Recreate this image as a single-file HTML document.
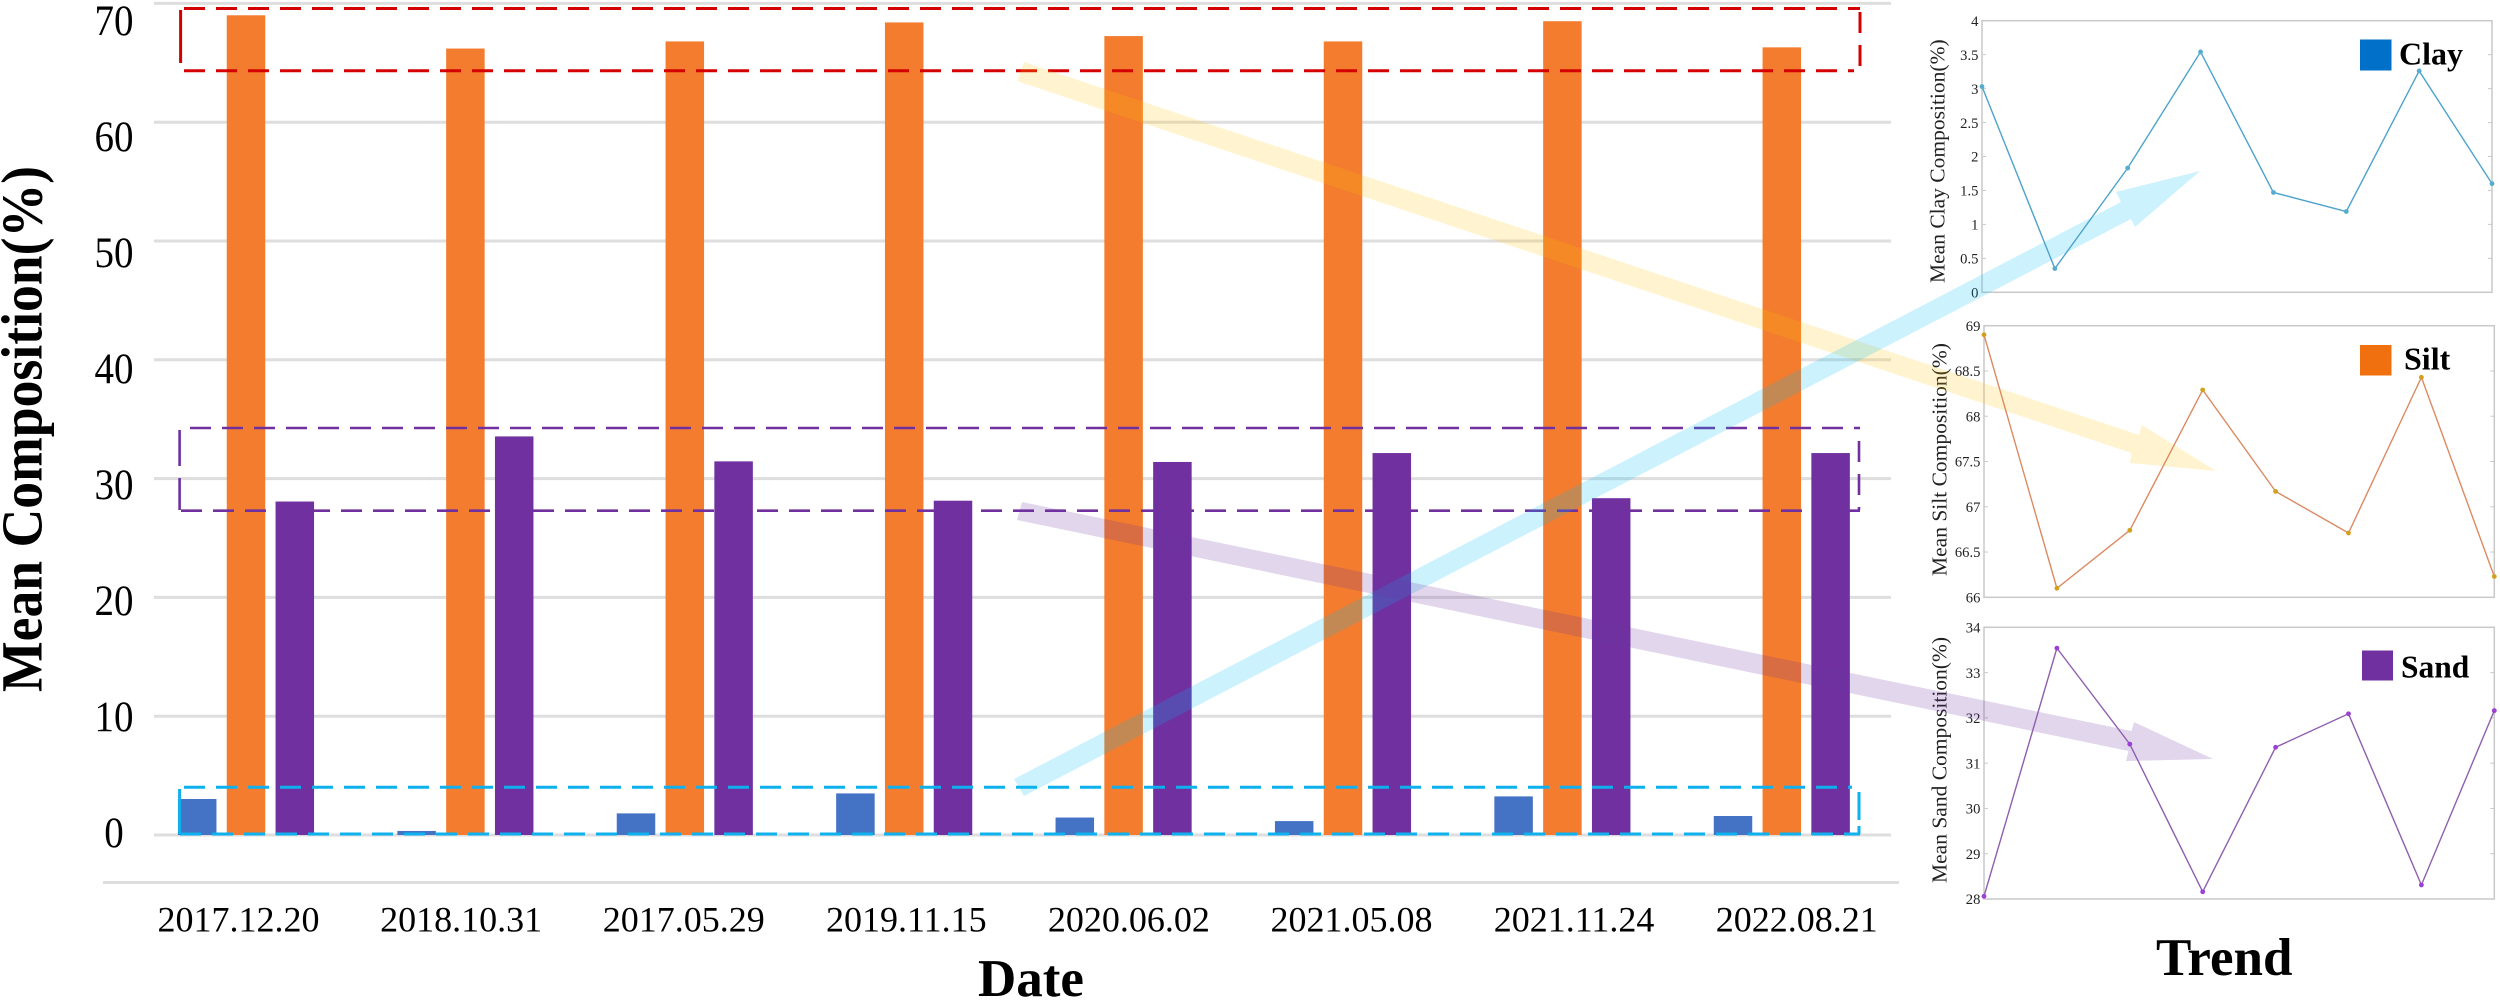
<!DOCTYPE html>
<html lang="en">
<head>
<meta charset="utf-8">
<title>Mean Composition by Date and Trend</title>
<style>
  html, body { margin: 0; padding: 0; background: #fff; }
  svg { display: block; font-family: "Liberation Serif", "Times New Roman", serif; }
</style>
</head>
<body>
<svg id="figure" xmlns="http://www.w3.org/2000/svg" width="2500" height="1000" viewBox="0 0 2500 1000">
  <rect width="2500" height="1000" fill="#fff"/>
  <g id="main-grid"></g>
  <line x1="103" x2="1899" y1="882.5" y2="882.5" stroke="#dedede" stroke-width="3"/>
  <g id="main-bars"></g>
  <g id="main-y-labels"></g>
  <g id="main-x-labels"></g>

  <text transform="translate(41.5 692) rotate(-90)" font-size="58" font-weight="bold" textLength="526" lengthAdjust="spacingAndGlyphs">Mean Composition(%)</text>
  <text x="978" y="996" font-size="53" font-weight="bold">Date</text>
  <text x="2156" y="975" font-size="53" font-weight="bold">Trend</text>

  <g fill="none" stroke="#d40000" stroke-width="3">
    <line x1="184" x2="1860" y1="8.5" y2="8.5" stroke-dasharray="21 11"/>
    <line x1="184" x2="1854" y1="70.7" y2="70.7" stroke-dasharray="21 11"/>
    <line x1="180.6" x2="180.6" y1="10" y2="63"/>
    <line x1="1860" x2="1860" y1="12" y2="66" stroke-dasharray="21 12"/>
  </g>
  <g fill="none" stroke="#7030a0" stroke-width="2.6">
    <line x1="190" x2="1860" y1="428" y2="428" stroke-dasharray="21 11"/>
    <line x1="181" x2="1860" y1="510.7" y2="510.7" stroke-dasharray="21 11"/>
    <line x1="179.6" x2="179.6" y1="430" y2="510" stroke-dasharray="36 12"/>
    <line x1="1859" x2="1859" y1="441" y2="510" stroke-dasharray="21 12"/>
  </g>
  <g fill="none" stroke="#0fb0ee" stroke-width="3">
    <line x1="184" x2="1852" y1="787.3" y2="787.3" stroke-dasharray="21 11"/>
    <line x1="180" x2="1860" y1="834" y2="834" stroke-dasharray="21 11"/>
    <line x1="179.6" x2="179.6" y1="789" y2="834"/>
    <line x1="1859" x2="1859" y1="792" y2="834" stroke-dasharray="28 6"/>
  </g>

  <g id="trend-panels"></g>

  <polygon points="1024,62 2139,435 2142,425 2216,471 2130,463 2131.5,453 1017,81" fill="#ffc400" fill-opacity="0.19"/>
  <polygon points="1014,779 2121,202 2116,192 2200,171 2135,227 2131,219 1024,796" fill="#00bef5" fill-opacity="0.2"/>
  <polygon points="1022,502 2131.5,731 2134,722 2213,759 2126,761 2128.5,751 1017,520" fill="#7030a0" fill-opacity="0.2"/>

  <g id="trend-lines"></g>

  <rect x="2360" y="39.5" width="31.5" height="31" fill="#0070c8"/>
  <text x="2399" y="64.5" font-size="32" font-weight="bold">Clay</text>
  <rect x="2360" y="345" width="31.5" height="30.5" fill="#f07010"/>
  <text x="2404" y="369.5" font-size="32" font-weight="bold">Silt</text>
  <rect x="2362" y="650.5" width="31" height="30" fill="#7030a0"/>
  <text x="2401" y="677.5" font-size="31.5" font-weight="bold">Sand</text>
</svg>

<script>
const categories = ['2017.12.20', '2018.10.31', '2017.05.29', '2019.11.15', '2020.06.02', '2021.05.08', '2021.11.24', '2022.08.21'];
const barClay = [3.03, 0.34, 1.82, 3.5, 1.47, 1.17, 3.25, 1.6];
const barSilt = [69.0, 66.2, 66.8, 68.4, 67.25, 66.8, 68.5, 66.3];
const barSand = [28.07, 33.55, 31.45, 28.14, 31.4, 32.15, 28.35, 32.15];
const mainTicks = [0, 10, 20, 30, 40, 50, 60, 70];
const trendClay = [3.03, 0.35, 1.83, 3.54, 1.47, 1.19, 3.26, 1.6];
const trendSilt = [68.9, 66.1, 66.74, 68.29, 67.17, 66.71, 68.43, 66.23];
const trendSand = [28.06, 33.54, 31.42, 28.16, 31.35, 32.09, 28.31, 32.16];
const clayTicks = [0, 0.5, 1, 1.5, 2, 2.5, 3, 3.5, 4];
const siltTicks = [66, 66.5, 67, 67.5, 68, 68.5, 69];
const sandTicks = [28, 29, 30, 31, 32, 33, 34];

const NS = 'http://www.w3.org/2000/svg';
function make(tag, attrs, parent) {
  const node = document.createElementNS(NS, tag);
  Object.keys(attrs).forEach(function (k) { node.setAttribute(k, attrs[k]); });
  parent.appendChild(node);
  return node;
}

/* main chart axis functions */
const mainY = function (v) { return 835 - v * 11.88; };
const mainLabelY = function (v) { return 832.7 - v * 11.6; };
const bandX = function (i) { return 246 + i * 219.4; };
const tickLabelX = function (i) { return 238.5 + i * 222.6; };
const BAR_W = 38.5;
const BAR_STEP = 48.8;

const gridGroup = document.getElementById('main-grid');
const yLabelGroup = document.getElementById('main-y-labels');
mainTicks.forEach(function (t) {
  const grid = make('line', { x1: 154, x2: 1891, y1: mainY(t), y2: mainY(t), stroke: '#dedede', 'stroke-width': 3 }, gridGroup);
  
  
  const label = make('text', { x: 114, y: mainLabelY(t) + 14.5, 'font-size': 43, 'text-anchor': 'middle', textLength: String(t).length * 19.5, lengthAdjust: 'spacingAndGlyphs', fill: '#000' }, yLabelGroup);
  label.textContent = t;
  
  
});

const barGroup = document.getElementById('main-bars');
const barSeries = [
  { key: 'clay', values: barClay, fill: '#4472c4', offset: -1 },
  { key: 'silt', values: barSilt, fill: '#f37c2e', offset: 0 },
  { key: 'sand', values: barSand, fill: '#7030a0', offset: 1 }
];
barSeries.forEach(function (s) {
  s.values.forEach(function (v, i) {
    const top = mainY(v);
    const bar = make('rect', { x: bandX(i) + s.offset * BAR_STEP - BAR_W / 2, y: top, width: BAR_W, height: mainY(0) - top, fill: s.fill }, barGroup);
    
    
  });
});

const xLabelGroup = document.getElementById('main-x-labels');
categories.forEach(function (c, i) {
  const label = make('text', { x: tickLabelX(i), y: 931.5, 'font-size': 36, 'text-anchor': 'middle', fill: '#000' }, xLabelGroup);
  label.textContent = c;
  
  
});

/* trend panels */
const panelGroup = document.getElementById('trend-panels');
const lineGroup = document.getElementById('trend-lines');
const panels = [
  { key: 'clay', values: trendClay, ticks: clayTicks, left: 1982, right: 2492, top: 20.7, bottom: 292.3, title: 'Mean Clay Composition(%)', titleBase: 283, lineColor: '#4ea3cc', markColor: '#55accf' },
  { key: 'silt', values: trendSilt, ticks: siltTicks, left: 1984, right: 2494.3, top: 325.7, bottom: 597.3, title: 'Mean Silt Composition(%)', titleBase: 576, lineColor: '#dc8a62', markColor: '#d3a01e' },
  { key: 'sand', values: trendSand, ticks: sandTicks, left: 1984, right: 2494.3, top: 627.3, bottom: 899, title: 'Mean Sand Composition(%)', titleBase: 883, lineColor: '#8e5fae', markColor: '#9a3fd8' }
];
panels.forEach(function (p) {
  const lo = p.ticks[0];
  const hi = p.ticks[p.ticks.length - 1];
  const yScale = function (v) { return p.bottom - (v - lo) / (hi - lo) * (p.bottom - p.top); };
  const xScale = function (i) { return p.left + i * (p.right - p.left) / (p.values.length - 1); };

  const frame = make('rect', { x: p.left, y: p.top, width: p.right - p.left, height: p.bottom - p.top, fill: 'none', stroke: '#c9c9c9', 'stroke-width': 1.5 }, panelGroup);
  
  

  p.ticks.forEach(function (t) {
    const y = yScale(t);
    const tickL = make('line', { x1: p.left, x2: p.left + 4, y1: y, y2: y, stroke: '#c9c9c9', 'stroke-width': 1 }, panelGroup);
    
    
    const tickR = make('line', { x1: p.right - 4, x2: p.right, y1: y, y2: y, stroke: '#c9c9c9', 'stroke-width': 1 }, panelGroup);
    
    
    const label = make('text', { x: p.left - 3.6, y: y + 5.2, 'font-size': 14.6, 'text-anchor': 'end', fill: '#222' }, panelGroup);
    label.textContent = t;
    
    
  });

  const title = make('text', { transform: 'translate(' + (p.left - 37.5) + ' ' + p.titleBase + ') rotate(-90)', 'font-size': 21.5, fill: '#222' }, panelGroup);
  title.textContent = p.title;
  
  

  const pts = p.values.map(function (v, i) { return xScale(i) + ',' + yScale(v); }).join(' ');
  const line = make('polyline', { points: pts, fill: 'none', stroke: p.lineColor, 'stroke-width': 1.4 }, lineGroup);
  
  

  p.values.forEach(function (v, i) {
    const dot = make('circle', { cx: xScale(i), cy: yScale(v), r: 2.4, fill: p.markColor }, lineGroup);
    
    
  });
});
</script>
</body>
</html>
